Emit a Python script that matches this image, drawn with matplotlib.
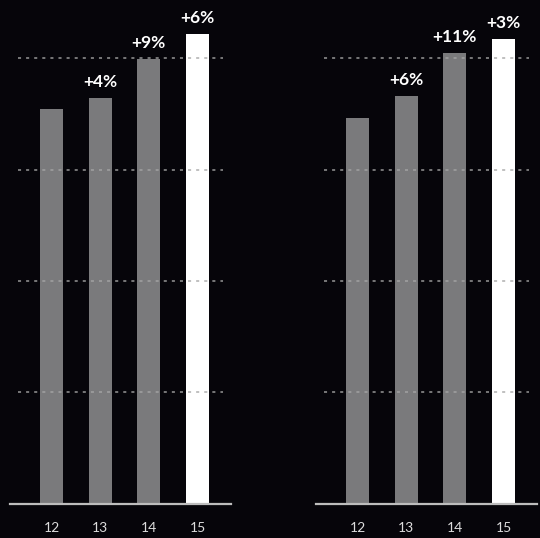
import matplotlib.pyplot as plt

# годы и значения для двух панелей (в долях шкалы, сетка каждые 25)
years = ["12", "13", "14", "15"]
left_values = [88.6, 91.1, 99.9, 105.4]
left_labels = ["", "+4%", "+9%", "+6%"]
right_values = [86.6, 91.5, 101.2, 104.3]
right_labels = ["", "+6%", "+11%", "+3%"]
grid_levels = [25, 50, 75, 100]

BG = "#06050a"
GREY = "#7a7a7c"
WHITE = "#ffffff"

plt.rcParams['font.family'] = ['Lato', 'DejaVu Sans']


def draw_panel(ax, values, labels):
    ax.set_facecolor(BG)
    x = list(range(len(values)))
    colors = [GREY] * (len(values) - 1) + [WHITE]
    ax.bar(x, values, width=0.47, color=colors, zorder=2)

    # пунктирная сетка поверх столбцов
    for level in grid_levels:
        ax.plot([-0.69, 3.53], [level, level], color="#a6a6a6",
                lw=1.1, linestyle=(0, (2.0, 3.3)), zorder=3, alpha=0.9)

    for xi, v, lab in zip(x, values, labels):
        if lab:
            ax.annotate(lab, (xi, v), xytext=(0, 8), textcoords="offset points",
                        ha="center", va="baseline", color="white",
                        fontsize=12.5, fontweight="bold")

    ax.set_xlim(-0.853, 3.688)
    ax.set_ylim(0, 113.1)
    ax.set_xticks(x)
    ax.set_xticklabels(years)
    ax.set_yticks([])
    ax.tick_params(axis="x", length=0, pad=13, labelsize=10, labelcolor="#dcdcdc")
    for side in ["top", "left", "right"]:
        ax.spines[side].set_visible(False)
    ax.spines["bottom"].set_color("#bdbdbd")
    ax.spines["bottom"].set_linewidth(1.6)
    ax.spines["bottom"].set_zorder(4)


def main():
    fig = plt.figure(figsize=(5.4, 5.38), dpi=100, facecolor=BG)
    ax1 = fig.add_axes([10 / 540, 34.5 / 538, 221 / 540, 503.5 / 538])
    ax2 = fig.add_axes([316 / 540, 34.5 / 538, 221 / 540, 503.5 / 538])
    draw_panel(ax1, left_values, left_labels)
    draw_panel(ax2, right_values, right_labels)
    fig.savefig("out.png", dpi=100, facecolor=BG)


if __name__ == "__main__":
    main()
